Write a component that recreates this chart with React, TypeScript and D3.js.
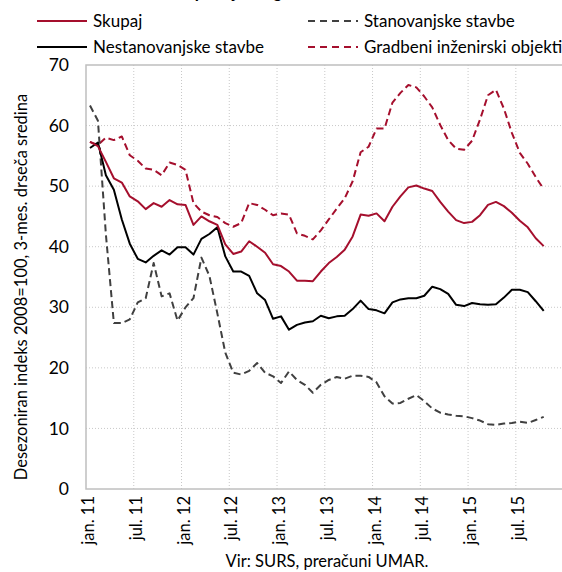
import React from "react";
import * as d3 from "d3";

const tickLabels = ["jan. 11", "jul. 11", "jan. 12", "jul. 12", "jan. 13", "jul. 13", "jan. 14", "jul. 14", "jan. 15", "jul. 15"];
const yTicks = [0, 10, 20, 30, 40, 50, 60, 70];

const skupaj = [57.3, 56.6, 54.0, 51.3, 50.6, 48.3, 47.5, 46.2, 47.2, 46.6, 47.7, 47.0, 46.9, 43.6, 45.0, 44.2, 43.6, 40.4, 38.8, 39.2,
  40.9, 40.0, 39.0, 37.1, 36.8, 35.9, 34.4, 34.4, 34.3, 35.9, 37.3, 38.3, 39.5, 41.7, 45.3, 45.1, 45.5, 44.2, 46.6, 48.3,
  49.8, 50.1, 49.6, 49.2, 47.4, 45.8, 44.4, 43.9, 44.1, 45.2, 46.9, 47.4, 46.7, 45.6, 44.3, 43.2, 41.4, 40.1];
const nestanovanjske = [56.3, 57.2, 51.8, 49.4, 44.5, 40.5, 38.0, 37.4, 38.5, 39.4, 38.7, 39.9, 39.9, 38.7, 41.3, 42.1, 43.2, 38.4, 35.9, 35.9,
  35.2, 32.3, 31.2, 28.1, 28.5, 26.3, 27.1, 27.5, 27.7, 28.6, 28.2, 28.5, 28.6, 29.7, 31.1, 29.7, 29.5, 29.0, 30.8, 31.3,
  31.5, 31.5, 31.9, 33.4, 33.0, 32.2, 30.4, 30.2, 30.7, 30.5, 30.4, 30.5, 31.6, 32.9, 32.9, 32.5, 31.0, 29.4];
const stanovanjske = [63.3, 60.8, 42.0, 27.4, 27.4, 28.0, 30.8, 31.5, 37.3, 31.8, 32.3, 27.8, 30.0, 31.5, 38.2, 35.2, 29.0, 22.5, 19.2, 18.9,
  19.5, 20.8, 19.2, 18.6, 17.5, 19.4, 18.0, 17.2, 15.9, 17.2, 18.0, 18.5, 18.2, 18.7, 18.7, 18.5, 17.6, 15.3, 14.1, 14.2,
  14.9, 15.5, 14.5, 13.3, 12.6, 12.3, 12.1, 12.0, 11.7, 11.3, 10.7, 10.6, 10.8, 10.9, 11.1, 10.9, 11.4, 11.9];
const gradbeni = [57.3, 56.8, 58.0, 57.6, 58.2, 55.1, 54.2, 52.9, 52.7, 51.8, 53.9, 53.5, 52.7, 47.2, 45.8, 45.2, 44.9, 43.9, 43.3, 43.9,
  47.2, 46.9, 46.1, 45.2, 45.5, 45.3, 42.2, 41.8, 41.2, 42.7, 44.5, 46.3, 48.0, 50.8, 55.6, 56.5, 59.5, 59.5, 63.8, 65.4,
  66.7, 66.3, 64.8, 63.0, 60.1, 57.6, 56.2, 56.0, 57.5, 61.0, 65.0, 65.9, 62.8, 58.8, 55.5, 53.7, 51.5, 49.5];

const RED = "#A50F2D";
const GREY = "#404040";
const GRID = "#C8C8C8";
const FONT = "Lato, 'Open Sans', sans-serif";

const monthSlots = 60;
const left = 86, top = 65, bottom = 489, monthW = 7.96;

export default function App() {
  const x = d3.scaleLinear().domain([0, monthSlots]).range([left, left + monthSlots * monthW]);
  const y = d3.scaleLinear().domain([0, 70]).range([bottom, top]);
  const line = d3.line<number>().x((_, i) => x(i + 0.5)).y((d) => y(d));

  const series = [
    { data: gradbeni, color: RED, dash: "7,4" },
    { data: stanovanjske, color: GREY, dash: "7,4" },
    { data: nestanovanjske, color: "#000", dash: null },
    { data: skupaj, color: RED, dash: null },
  ];

  const legend = [
    { name: "Skupaj", color: RED, dash: null, lx: 37, ly: 21 },
    { name: "Nestanovanjske stavbe", color: "#000", dash: null, lx: 37, ly: 47 },
    { name: "Stanovanjske stavbe", color: GREY, dash: "7,5", lx: 308, ly: 21 },
    { name: "Gradbeni inženirski objekti", color: RED, dash: "7,5", lx: 308, ly: 47 },
  ];

  const right = x(monthSlots);

  return (
    <svg width={562} height={572} style={{ position: "absolute", left: 0, top: 0, background: "#fff" }} fontFamily={FONT}>
      <text x={112} y={-2} fontSize={17} fontWeight="bold" fill="#000">Vrednost opravljenih gradbenih del</text>
      {yTicks.filter((t) => t > 0 && t < 70).map((t) => (
        <line key={"gy" + t} x1={left} x2={right} y1={y(t)} y2={y(t)} stroke={GRID} strokeWidth={1} strokeDasharray="1,2" />
      ))}
      {tickLabels.map((_, k) => k > 0 ? (
        <line key={"gx" + k} x1={x(k * 6)} x2={x(k * 6)} y1={top} y2={bottom} stroke={GRID} strokeWidth={1} strokeDasharray="1,2" />
      ) : null)}
      <rect x={left} y={top} width={right - left} height={bottom - top} fill="none" stroke="#BFBFBF" strokeWidth={1.5} />
      {series.map((s, i) => (
        <path key={i} d={line(s.data) || ""} fill="none" stroke={s.color} strokeWidth={2}
          strokeDasharray={s.dash || undefined} strokeLinejoin="round" />
      ))}
      {yTicks.map((t) => (
        <text key={"yl" + t} x={69} y={y(t)} dy="0.35em" textAnchor="end" fontSize={17.5} fill="#000">{t}</text>
      ))}
      {tickLabels.map((lab, k) => (
        <text key={"xl" + lab} transform={`translate(${x(k * 6 + 0.5) + 4},496) rotate(-90)`} textAnchor="end"
          fontSize={16.5} fill="#000">{lab}</text>
      ))}
      <text transform="translate(27,287) rotate(-90)" textAnchor="middle" fontSize={16.5} fill="#000">
        Desezoniran indeks 2008=100, 3-mes. drseča sredina
      </text>
      <text x={327} y={567} textAnchor="middle" fontSize={16.5} fill="#000">Vir: SURS, preračuni UMAR.</text>
      {legend.map((l) => (
        <g key={l.name}>
          <line x1={l.lx} x2={l.lx + 50} y1={l.ly} y2={l.ly} stroke={l.color} strokeWidth={2} strokeDasharray={l.dash || undefined} />
          <text x={l.lx + 56} y={l.ly} dy="0.35em" fontSize={17} fill="#000">{l.name}</text>
        </g>
      ))}
    </svg>
  );
}
